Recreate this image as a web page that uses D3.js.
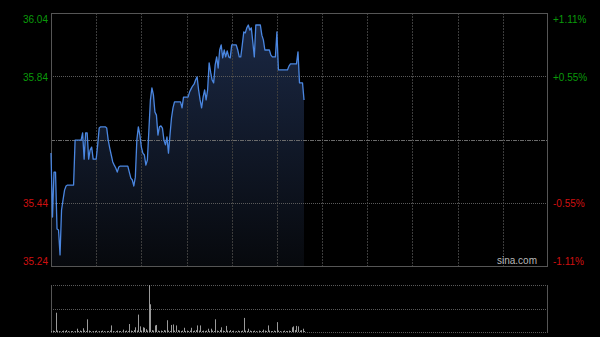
<!DOCTYPE html>
<html><head><meta charset="utf-8">
<script src="https://cdn.jsdelivr.net/npm/d3@7"></script>
<style>html,body{margin:0;padding:0;background:#000;}svg{display:block;}</style>
</head><body>
<script>
// ---- data ----
const prevClose = 35.64;
const priceTicks = [36.04, 35.84, 35.44, 35.24];
const pctLabels = ["+1.11%", "+0.55%", "-0.55%", "-1.11%"];
const tickColors = ["#0a9a0a", "#0a9a0a", "#d01010", "#d01010"];
const sessionMinutes = 330;
const gridMinutes = [30, 60, 90, 120, 150, 180, 210, 240, 270, 300];
const prices = [
 35.597,35.395,35.537,35.537,35.357,35.354,35.275,35.417,35.449,35.480,
 35.493,35.496,35.496,35.496,35.496,35.496,35.638,35.638,35.638,35.638,
 35.638,35.661,35.578,35.661,35.661,35.578,35.607,35.616,35.578,35.578,
 35.578,35.623,35.676,35.680,35.680,35.680,35.680,35.676,35.638,35.613,
 35.591,35.569,35.559,35.550,35.537,35.553,35.556,35.556,35.556,35.556,
 35.556,35.556,35.537,35.518,35.512,35.493,35.521,35.638,35.680,35.654,
 35.616,35.597,35.591,35.559,35.575,35.670,35.765,35.803,35.781,35.727,
 35.717,35.654,35.680,35.683,35.676,35.638,35.623,35.648,35.597,35.654,
 35.708,35.740,35.759,35.759,35.759,35.759,35.759,35.740,35.774,35.774,
 35.774,35.774,35.790,35.800,35.809,35.815,35.828,35.838,35.797,35.765,
 35.740,35.774,35.797,35.765,35.797,35.882,35.853,35.828,35.819,35.876,
 35.901,35.866,35.923,35.939,35.898,35.923,35.901,35.920,35.901,35.898,
 35.939,35.939,35.939,35.939,35.923,35.901,35.901,35.939,35.980,35.977,
 35.993,36.002,35.986,35.993,35.948,35.901,36.002,36.002,36.002,36.002,
 35.970,35.955,35.923,35.923,35.923,35.923,35.907,35.901,35.901,35.901,
 35.980,35.860,35.860,35.860,35.860,35.860,35.860,35.860,35.872,35.879,
 35.879,35.879,35.879,35.879,35.917,35.819,35.819,35.819,35.765
];
const volumes = [
 2,3,2,41,3,2,1,2,3,2,
 4,2,1,2,2,1,2,7,2,3,
 2,8,3,2,27,3,2,1,2,2,
 3,1,2,2,3,2,1,2,2,3,
 14,2,1,2,3,2,2,1,5,2,
 3,2,17,3,2,4,10,3,37,12,
 3,10,9,6,3,100,59,4,3,14,
 15,3,2,3,2,4,3,25,3,2,
 15,16,3,14,4,3,2,3,9,2,
 3,2,3,9,2,3,4,14,3,14,
 2,3,2,3,7,2,7,3,2,27,
 3,2,4,10,3,2,13,3,2,4,
 2,3,1,2,3,2,2,3,30,3,
 2,7,3,2,2,3,2,1,3,2,
 2,5,3,2,14,3,2,2,3,2,
 21,3,2,1,2,3,2,2,3,2,
 10,12,4,13,12,3,4,7,2
];

// ---- layout ----
const W = 600, H = 337;
const L = 51, R = 548, T = 13, B = 266;
const VT = 285, VB = 332;

const svg = d3.select("body").append("svg").attr("width", W).attr("height", H)
  .style("background", "#000").style("font-family", "'Liberation Sans', Arial, sans-serif");

const x = d3.scaleLinear().domain([0, sessionMinutes]).range([L, R]);
const y = d3.scaleLinear().domain([priceTicks[3], priceTicks[0]]).range([B, T]);
const yv = d3.scaleLinear().domain([0, d3.max(volumes)]).range([VB, VT]);

// gradient
const defs = svg.append("defs");
const grad = defs.append("linearGradient").attr("id", "fillg")
  .attr("gradientUnits", "userSpaceOnUse").attr("x1", 0).attr("y1", T).attr("x2", 0).attr("y2", B);
grad.append("stop").attr("offset", "0%").attr("stop-color", "#1b2946");
grad.append("stop").attr("offset", "100%").attr("stop-color", "#07090d");

// area
const area = d3.area().x((d, i) => x(i)).y0(B).y1(d => y(d));
svg.append("path").datum(prices).attr("d", area).attr("fill", "url(#fillg)");

// vertical grid lines (main)
svg.append("g").selectAll("line").data(gridMinutes).join("line")
  .attr("x1", d => Math.round(x(d)) + 0.5).attr("x2", d => Math.round(x(d)) + 0.5)
  .attr("y1", T).attr("y2", B)
  .attr("stroke", "#3c3c3c").attr("stroke-width", 1).attr("stroke-dasharray", "2,1");

// horizontal grid lines
svg.append("g").selectAll("line").data([priceTicks[1], priceTicks[2]]).join("line")
  .attr("x1", L).attr("x2", R)
  .attr("y1", d => Math.round(y(d)) + 0.5).attr("y2", d => Math.round(y(d)) + 0.5)
  .attr("stroke", "#5a5a5a").attr("stroke-width", 1).attr("stroke-dasharray", "1,1");
svg.append("line").attr("x1", L).attr("x2", R)
  .attr("y1", Math.round(y(prevClose)) + 0.5).attr("y2", Math.round(y(prevClose)) + 0.5)
  .attr("stroke", "#6a6a6a").attr("stroke-width", 1).attr("stroke-dasharray", "4,1,1,1");

// border main
svg.append("rect").attr("x", L + 0.5).attr("y", T + 0.5).attr("width", R - L - 1).attr("height", B - T)
  .attr("fill", "none").attr("stroke", "#555").attr("stroke-width", 1);

// price line
const line = d3.line().x((d, i) => x(i)).y(d => y(d));
svg.append("path").datum(prices).attr("d", line)
  .attr("fill", "none").attr("stroke", "#4a86e0").attr("stroke-width", 1.3).attr("stroke-linejoin", "round");

// left labels
const lblY = [19, 77, 203, 261];
svg.append("g").selectAll("text").data(priceTicks).join("text")
  .attr("x", 48).attr("y", (d, i) => lblY[i]).attr("dy", "0.35em")
  .attr("text-anchor", "end").attr("font-size", 10).attr("fill", (d, i) => tickColors[i])
  .text(d => d.toFixed(2));
// right labels
svg.append("g").selectAll("text").data(pctLabels).join("text")
  .attr("x", 553).attr("y", (d, i) => lblY[i]).attr("dy", "0.35em")
  .attr("text-anchor", "start").attr("font-size", 10).attr("fill", (d, i) => tickColors[i])
  .text(d => d);

// watermark
svg.append("text").attr("x", 537).attr("y", 264).attr("text-anchor", "end")
  .attr("font-size", 10).attr("fill", "#b8b8b8").text("sina.com");

// ---- volume pane ----
svg.append("g").selectAll("line").data([VT, (VT + VB) / 2, VB]).join("line")
  .attr("x1", L).attr("x2", R)
  .attr("y1", d => Math.round(d) + 0.5).attr("y2", d => Math.round(d) + 0.5)
  .attr("stroke", "#5a5a5a").attr("stroke-width", 1).attr("stroke-dasharray", "1,1");
svg.append("g").selectAll("line").data([L, R]).join("line")
  .attr("x1", d => d + 0.5 - (d === R ? 1 : 0)).attr("x2", d => d + 0.5 - (d === R ? 1 : 0))
  .attr("y1", VT).attr("y2", VB + 1)
  .attr("stroke", "#555").attr("stroke-width", 1);

svg.append("g").selectAll("rect").data(volumes).join("rect")
  .attr("x", (d, i) => Math.round(x(i)))
  .attr("y", d => yv(d))
  .attr("width", 1)
  .attr("height", d => VB - yv(d))
  .attr("fill", "#9a9a9a");
</script>
</body></html>
